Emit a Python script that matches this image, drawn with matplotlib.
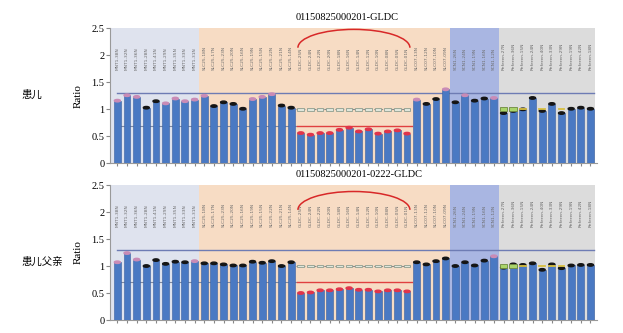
import numpy as np
import matplotlib.pyplot as plt
from matplotlib.patches import Ellipse, Arc, Rectangle

plt.rcParams['font.family'] = ['Liberation Serif', 'Noto Sans CJK SC', 'DejaVu Sans']

# probe names, 50 probes in four groups
probes = ['MNT1-38N', 'MNT1-32N', 'MNT1-36N', 'MNT1-28N', 'MNT1-41N', 'MNT1-29N',
          'MNT1-35N', 'MNT1-33N', 'MNT1-31N',
          'SLC25-18N', 'SLC25-17N', 'SLC25-23N', 'SLC25-20N', 'SLC25-16N', 'SLC25-19N',
          'SLC25-15N', 'SLC25-22N', 'SLC25-21N', 'SLC25-14N', 'GLDC-25N', 'GLDC-24N',
          'GLDC-22N', 'GLDC-20N', 'GLDC-18N', 'GLDC-16N', 'GLDC-14N', 'GLDC-12N',
          'GLDC-10N', 'GLDC-08N', 'GLDC-05N', 'GLDC-01N', 'SLC07-13N', 'SLC07-12N',
          'SLC07-10N', 'SLC07-09N',
          'SCN1-26N', 'SCN1-24N', 'SCN1-19N', 'SCN1-16N', 'SCN1-12N',
          'Referen-27N', 'Referen-36N', 'Referen-15N', 'Referen-24N', 'Referen-40N',
          'Referen-33N', 'Referen-29N', 'Referen-19N', 'Referen-42N', 'Referen-18N']
groups = [9, 26, 5, 10]
group_colors = ['#dfe3ee', '#f7dcc4', '#a9b6e2', '#dcdcdc']

titles = ['01150825000201-GLDC', '01150825000201-0222-GLDC']
samples = ['患儿', '患儿父亲']

ratio_child = [1.16, 1.26, 1.23, 1.03, 1.15, 1.11, 1.20, 1.15, 1.18,
               1.25, 1.06, 1.13, 1.10, 1.01, 1.19, 1.23, 1.28, 1.07, 1.03,
               0.56, 0.53, 0.56, 0.56, 0.62, 0.66, 0.59, 0.63, 0.55, 0.59, 0.61, 0.55,
               1.18, 1.10, 1.19, 1.37,
               1.13, 1.26, 1.16, 1.20, 1.21,
               0.93, 0.97, 1.00, 1.21, 0.97, 1.10, 0.93, 1.01, 1.03, 1.01]
ratio_father = [1.07, 1.24, 1.12, 1.00, 1.11, 1.04, 1.08, 1.07, 1.09,
                1.05, 1.05, 1.03, 1.01, 1.01, 1.08, 1.06, 1.09, 1.00, 1.07,
                0.50, 0.51, 0.55, 0.55, 0.57, 0.59, 0.56, 0.56, 0.53, 0.55, 0.55, 0.53,
                1.07, 1.03, 1.09, 1.14,
                1.00, 1.07, 1.01, 1.10, 1.18,
                0.97, 1.03, 1.02, 1.05, 0.93, 1.03, 0.96, 1.01, 1.02, 1.02]

# cap type per probe: 'p' above mean, 'k' normal, 'r' deleted
cap_child = list('pppkkpppp' 'pkkkkpppkk' 'rrrrrrrrrrrr' 'pkkp' 'kpkkp' 'kkkkkkkkkk')
cap_father = list('pppkkkkkp' 'kkkkkkkkkk' 'rrrrrrrrrrrr' 'kkkk' 'kkkkp' 'kkkkkkkkkk')

# reference range marker per probe: '' none, 'b' grey box, 'g' green box, 'y' yellow dash
ref_child = [''] * 19 + ['b'] * 12 + [''] * 9 + ['g', 'g', 'y', '', 'y', '', 'y', '', '', '']
ref_father = ([''] * 3 + ['b'] + [''] * 7 + ['b'] + [''] * 5 + ['b', ''] + ['b'] * 12
              + [''] * 9 + ['g', 'g', 'y', '', 'y', 'y', 'y', '', '', ''])

cap_colors = {'p': '#c98bb6', 'k': '#151515', 'r': '#e0344a'}

fig = plt.figure(figsize=(6.23, 3.33), dpi=100)
ax1 = fig.add_axes([0.1766, 0.5096, 0.7814, 0.4054])
ax2 = fig.add_axes([0.1766, 0.0390, 0.7814, 0.4054])

x = np.arange(len(probes))


def draw_panel(ax, ratios, caps, refs, title, sample, arc_y, ty, sy):
    ax.set_xlim(-0.76, 49.66)
    ax.set_ylim(0, 2.5)

    # probe group shading
    start = -0.76
    edges = np.cumsum(groups) - 0.5
    for n, (e, c) in enumerate(zip(edges, group_colors)):
        end = e if n < len(groups) - 1 else 49.45
        ax.axvspan(start, end, color=c, zorder=0, lw=0)
        start = e

    # threshold lines
    ax.plot([0, 49.4], [1.3, 1.3], color='#6e7cb4', lw=1, zorder=1)
    ax.plot([0, 18.5], [0.7, 0.7], color='#8088a0', lw=0.8, zorder=1)
    ax.plot([18.6, 30.5], [0.7, 0.7], color='#e04040', lw=1, zorder=1)

    ax.bar(x, ratios, width=0.72, color='#4a79c3', edgecolor='#3a5f9f',
           linewidth=0.4, zorder=3)

    for i, (v, c) in enumerate(zip(ratios, caps)):
        ax.add_patch(Ellipse((i, v), 0.62, 0.045, color=cap_colors[c], zorder=4))

    # reference range markers
    ax.plot([18.5, 30.5], [1.0, 1.0], ls=(0, (3, 2)), color='#8a8a8a', lw=0.8, zorder=2)
    for i, r in enumerate(refs):
        if r == 'b':
            ax.add_patch(Rectangle((i - 0.35, 0.975), 0.7, 0.05, facecolor='#dfe6dc',
                                   edgecolor='#8f9e8f', lw=0.6, zorder=2))
        elif r == 'g':
            ax.add_patch(Rectangle((i - 0.4, 0.96), 0.8, 0.08, facecolor='#a9d46a',
                                   edgecolor='#6f8a40', lw=0.6, zorder=5))
        elif r == 'y':
            ax.plot([i - 0.3, i + 0.3], [1.0, 1.0], color='#d8c040', lw=1.3, zorder=5)

    # probe names
    for i, name in enumerate(probes):
        ax.text(i, 1.72, name, rotation=90, ha='center', va='bottom',
                fontsize=3.2, color='#6a6a6a', family='DejaVu Sans', zorder=2)

    # deleted exon bracket
    ax.add_patch(Arc((24.5, arc_y), 11.6, 0.68, theta1=0, theta2=180,
                     color='#d82828', lw=1.1, clip_on=False, zorder=6))

    ax.set_yticks([0, 0.5, 1, 1.5, 2, 2.5])
    ax.set_yticklabels(['0', '0.5', '1', '1.5', '2', '2.5'])
    ax.set_xticks(x)
    ax.set_xticklabels([])
    ax.tick_params(axis='y', labelsize=7.5, length=3, color='#888888', pad=1)
    ax.tick_params(axis='x', length=2.5, color='#888888')
    for s in ['top', 'right']:
        ax.spines[s].set_visible(False)
    for s in ['left', 'bottom']:
        ax.spines[s].set_color('#999999')
        ax.spines[s].set_linewidth(0.8)

    ax.set_ylabel('Ratio', fontsize=8, labelpad=6)
    fig.text(0.474, ty, title, fontsize=7.5, ha='left', va='center')
    fig.text(0.035, sy, sample, fontsize=7.5, ha='left', va='center',
             family='Noto Sans CJK SC')


draw_panel(ax1, ratio_child, cap_child, ref_child, titles[0], samples[0], 2.14, 0.946, 0.715)
draw_panel(ax2, ratio_father, cap_father, ref_father, titles[1], samples[1], 2.04, 0.476, 0.213)

fig.savefig('out.png', dpi=100)
